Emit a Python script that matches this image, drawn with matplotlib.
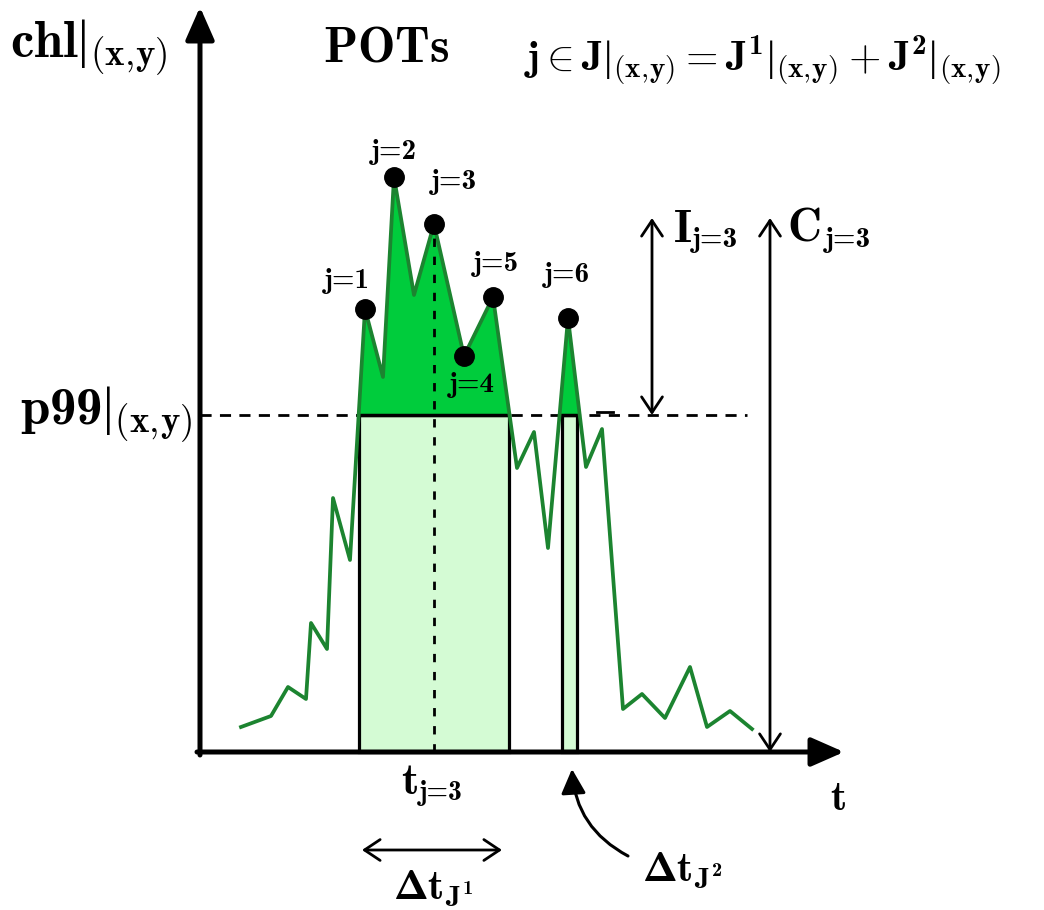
import matplotlib
matplotlib.use('Agg')
import matplotlib.pyplot as plt
import numpy as np
from matplotlib.patches import Rectangle, FancyArrowPatch

plt.rcParams['mathtext.fontset'] = 'custom'
plt.rcParams['mathtext.bf'] = 'cmb10'
plt.rcParams['mathtext.rm'] = 'cmr10'
plt.rcParams['mathtext.it'] = 'cmmi10'
plt.rcParams['mathtext.sf'] = 'Liberation Serif'
plt.rcParams['mathtext.fallback'] = 'cm'

# ---- data (schematic units: t along time axis, chl above the time axis) ----
t = np.array([41, 71, 88, 106, 111, 127, 133, 150, 165, 183, 194, 214, 234, 264,
              293, 317, 334, 348, 368, 386, 402, 423, 442, 465, 490, 507, 530, 552])
chl = np.array([25, 36, 65, 53, 129, 103, 254, 192, 443, 375, 575, 457, 528, 396,
                455, 284, 320, 204, 434, 285, 323, 43, 58, 34, 85, 25, 41, 23])
p99 = 337
peak_idx = [8, 10, 12, 13, 14, 18]
peak_labels = ['j=1', 'j=2', 'j=3', 'j=4', 'j=5', 'j=6']
event_start = [159, 362]
event_end = [309, 377]
t_j3 = 234

# ---- styling ----
LINE = '#1c8430'
DARK = '#00cc3c'
LIGHT = '#d4fbd4'
cmb = dict(family='cmb10')
BAR = r'\mathsf{|}'
XY = r'_{(\mathbf{x},\!\mathbf{y})}'

fig = plt.figure(figsize=(10.44, 9.10), dpi=100)
ax = fig.add_axes([0, 0, 1, 1])
ax.set_xlim(-200, 844)
ax.set_ylim(-158, 752)
ax.axis('off')

# p99 dashed threshold
ax.plot([0, 547], [p99, p99], color='k', lw=2, ls=(0, (4, 3)), zorder=2)

# light rectangles (events)
for s, e in zip(event_start, event_end):
    ax.add_patch(Rectangle((s, 0), e - s, p99, facecolor=LIGHT, edgecolor='k',
                           lw=2.3, zorder=3))

# dark fill above threshold
ax.fill_between(t, chl, p99, where=chl >= p99, interpolate=True,
                color=DARK, lw=0, zorder=4)
for s, e in zip(event_start, event_end):
    ax.plot([s, e], [p99, p99], color='k', lw=2.5, zorder=5)
ax.plot([397, 413], [340, 340], color='k', lw=2, zorder=5)

# time-series line
ax.plot(t, chl, color=LINE, lw=2.7, zorder=6)

# vertical dotted at t_j=3
ax.plot([t_j3, t_j3], [0, chl[12]], color='k', lw=2, ls=(0, (3, 3.5)), zorder=6)

# peaks
ax.plot(t[peak_idx], chl[peak_idx], 'o', color='k', ms=14, zorder=7)
offsets = [(-13, 20), (0, 18), (14, 30), (6, -21), (2, 24), (-1, 31)]
for i, lab, off in zip(peak_idx, peak_labels, offsets):
    ax.annotate(lab, (t[i], chl[i]), xytext=off, textcoords='offset points',
                ha='center', va='center', fontsize=21, **cmb, zorder=8)

# axes arrows
for xy0, xy1 in [((0, -3), (0, 745)), ((-3, 0), (644, 0))]:
    ax.add_patch(FancyArrowPatch(xy0, xy1, arrowstyle='-|>,head_length=0.5,head_width=0.22',
                                 mutation_scale=40, lw=3.6, color='k',
                                 shrinkA=0, shrinkB=0, zorder=9))

# I and C arrows
for x, y0 in [(452, p99), (570, 0)]:
    ax.add_patch(FancyArrowPatch((x, y0), (x, 534),
                                 arrowstyle='<->,head_length=0.45,head_width=0.3',
                                 mutation_scale=25, lw=2, color='k',
                                 shrinkA=0, shrinkB=0, zorder=9))
# delta t J1 arrow
ax.add_patch(FancyArrowPatch((162, -98), (302, -98),
                             arrowstyle='<->,head_length=0.45,head_width=0.3',
                             mutation_scale=25, lw=2, color='k',
                             shrinkA=0, shrinkB=0, zorder=9))
# curved arrow to J2
ax.add_patch(FancyArrowPatch((428, -104), (372, -17),
                             arrowstyle='-|>,head_length=0.5,head_width=0.25',
                             connectionstyle='arc3,rad=-0.28',
                             mutation_scale=30, lw=2.2, color='k',
                             shrinkA=0, shrinkB=0, zorder=9))

# ---- texts ----
ax.text(-190, 704, r'$\mathbf{chl}' + BAR + XY + '$', ha='left', va='center', fontsize=38)
ax.text(186, 704, r'$\mathbf{POTs}$', ha='center', va='center', fontsize=36)
ax.text(562, 692, r'$\mathbf{j}\in\mathbf{J}' + BAR + XY + r'=\mathbf{J}^{\mathbf{1}}' + BAR + XY
        + r'+\mathbf{J}^{\mathbf{2}}' + BAR + XY + '$',
        ha='center', va='center', fontsize=30)
ax.text(-8, 337, r'$\mathbf{p99}' + BAR + XY + '$', ha='right', va='center', fontsize=38)

ax.text(474, 510, 'I', ha='left', va='baseline', fontsize=33, **cmb)
ax.text(492, 505, 'j=3', ha='left', va='baseline', fontsize=21, **cmb)
ax.text(587, 510, 'C', ha='left', va='baseline', fontsize=34, **cmb)
ax.text(625, 505, 'j=3', ha='left', va='baseline', fontsize=21, **cmb)

ax.text(218, -42, 't', ha='right', va='baseline', fontsize=32, **cmb)
ax.text(219, -48, 'j=3', ha='left', va='baseline', fontsize=20, **cmb)

ax.text(638, -48, 't', ha='center', va='center', fontsize=30, **cmb)

ax.text(233, -136, '$\\mathbf{\u00a2t}_{\\mathbf{J}^{\\mathbf{1}}}$', ha='center', va='center', fontsize=30)
ax.text(482, -118, '$\\mathbf{\u00a2t}_{\\mathbf{J}^{\\mathbf{2}}}$', ha='center', va='center', fontsize=30)

fig.savefig('out.png', dpi=100)
